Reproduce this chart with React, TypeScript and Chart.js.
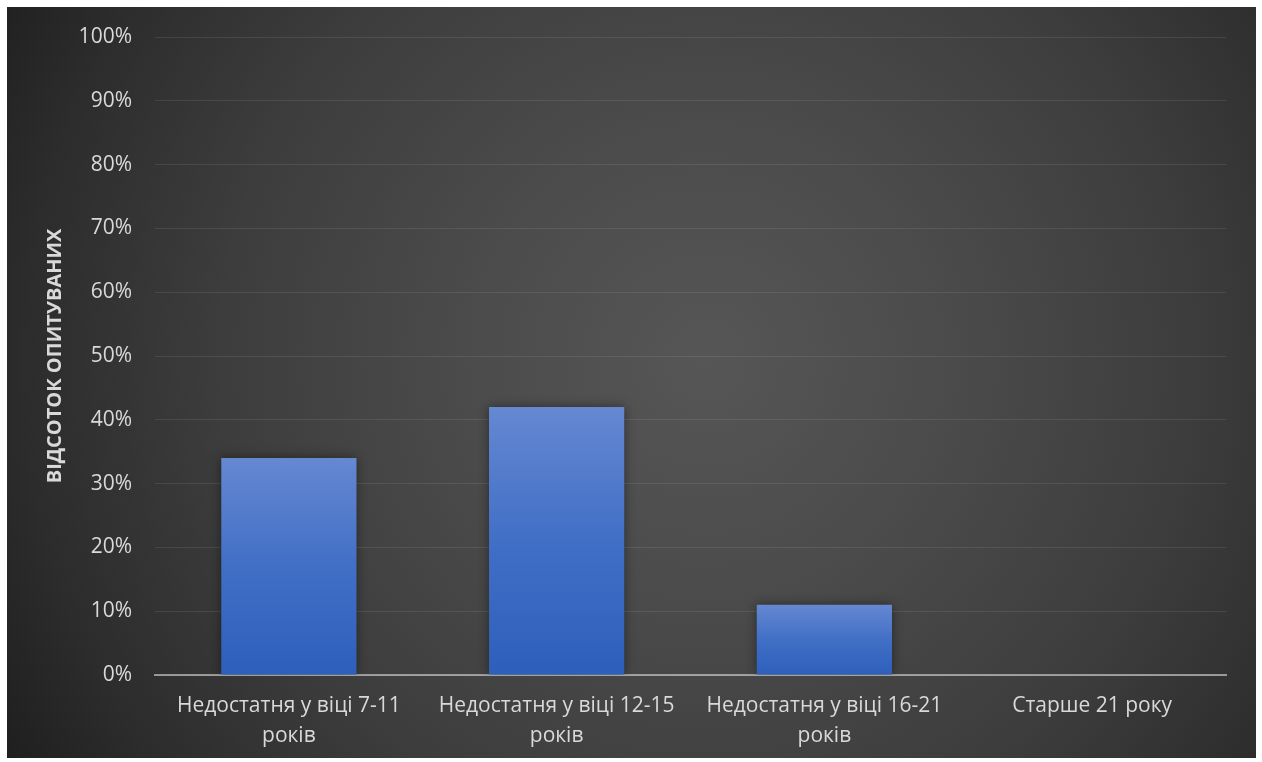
import React, { useEffect, useRef } from "react";
import { Chart, registerables } from "chart.js";

Chart.register(...registerables);

const categories: string[][] = [
  ["Недостатня у віці 7-11", "років"],
  ["Недостатня у віці 12-15", "років"],
  ["Недостатня у віці 16-21", "років"],
  ["Старше 21 року"],
];
const values: number[] = [34, 42, 11, 0];
const yTicks: number[] = [0, 10, 20, 30, 40, 50, 60, 70, 80, 90, 100];
const yTitle = "ВІДСОТОК ОПИТУВАНИХ";

const FONT = "'Open Sans', 'DejaVu Sans', sans-serif";
const TEXT = "#d9d9d9";

const shadowPlugin = {
  id: "barShadow",
  beforeDatasetsDraw(chart: any) {
    const ctx = chart.ctx;
    ctx.save();
    ctx.shadowColor = "rgba(0,0,0,0.45)";
    ctx.shadowBlur = 10;
    ctx.shadowOffsetX = 0;
    ctx.shadowOffsetY = 0;
  },
  afterDatasetsDraw(chart: any) {
    chart.ctx.restore();
  },
};

export default function App() {
  const ref = useRef<HTMLCanvasElement | null>(null);

  useEffect(() => {
    if (!ref.current) return;
    const chart = new Chart(ref.current, {
      type: "bar",
      data: {
        labels: categories,
        datasets: [
          {
            data: values,
            backgroundColor: (c: any) => {
              const { chart } = c;
              const area = chart.chartArea;
              if (!area) return "#4472c4";
              const y0 = chart.scales.y.getPixelForValue(c.raw ?? 0);
              const g = chart.ctx.createLinearGradient(0, y0, 0, area.bottom);
              g.addColorStop(0, "#6588d1");
              g.addColorStop(0.5, "#416fc6");
              g.addColorStop(1, "#2d5fbb");
              return g;
            },
            borderWidth: 0,
            barPercentage: 0.505,
            categoryPercentage: 1,
          },
        ],
      },
      options: {
        animation: false,
        responsive: false,
        maintainAspectRatio: false,
        layout: { padding: { left: 0, right: 30, top: 30, bottom: 0 } },
        plugins: {
          legend: { display: false },
          tooltip: { enabled: false },
        },
        scales: {
          x: {
            z: 1,
            grid: { display: false, drawTicks: false },
            border: { display: true, color: "rgba(217,217,217,0.6)", width: 2 },
            ticks: {
              color: TEXT,
              font: { family: FONT, size: 21, lineHeight: "30px" as any },
              padding: 16,
              maxRotation: 0,
              autoSkip: false,
            },
            afterFit: (s: any) => {
              s.height = 83;
            },
          },
          y: {
            min: 0,
            max: 100,
            afterBuildTicks: (s: any) => {
              s.ticks = yTicks.map((v) => ({ value: v }));
            },
            grid: {
              color: "rgba(255,255,255,0.09)",
              lineWidth: 1,
              drawTicks: true,
              tickLength: 23,
              tickColor: "rgba(0,0,0,0)",
            },
            border: { display: false },
            ticks: {
              color: TEXT,
              font: { family: FONT, size: 21 },
              padding: 0,
              callback: (v: any) => v + "%",
            },
            title: {
              display: true,
              text: yTitle,
              color: TEXT,
              font: { family: FONT, size: 20, weight: "bold" },
              padding: { top: 36, bottom: 0 },
            },
            afterFit: (s: any) => {
              s.width = 148;
            },
          },
        },
      },
      plugins: [shadowPlugin],
    });
    return () => chart.destroy();
  }, []);

  return (
    <div
      style={{
        position: "absolute",
        left: 7,
        top: 7,
        width: 1249,
        height: 751,
        background:
          "radial-gradient(circle farthest-corner at 56% 47%, #565656 0%, #4b4b4b 30%, #3d3d3d 60%, #2c2c2c 85%, #1f1f1f 100%)",
      }}
    >
      <canvas ref={ref} width={1249} height={751} style={{ display: "block" }} />
    </div>
  );
}
